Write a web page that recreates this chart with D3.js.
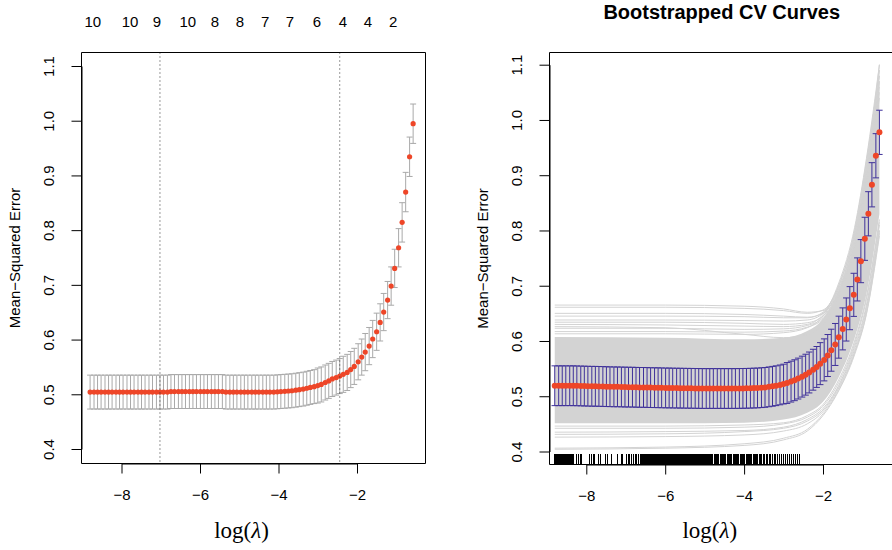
<!DOCTYPE html>
<html><head><meta charset="utf-8">
<script src="https://cdn.jsdelivr.net/npm/d3@7"></script>
<style>body{margin:0;background:#fff}svg{display:block}</style>
</head><body>
<svg id="chart" width="892" height="550"></svg>
<script>
// ---------------- data ----------------
const logLambda = [-8.80,-8.70,-8.61,-8.52,-8.42,-8.33,-8.24,-8.14,-8.05,-7.96,
-7.86,-7.77,-7.68,-7.58,-7.49,-7.40,-7.30,-7.21,-7.11,-7.02,
-6.93,-6.83,-6.74,-6.65,-6.55,-6.46,-6.37,-6.27,-6.18,-6.09,
-5.99,-5.90,-5.81,-5.71,-5.62,-5.53,-5.43,-5.34,-5.24,-5.15,
-5.06,-4.96,-4.87,-4.78,-4.68,-4.59,-4.50,-4.40,-4.31,-4.22,
-4.12,-4.03,-3.94,-3.84,-3.75,-3.66,-3.56,-3.47,-3.37,-3.28,
-3.19,-3.09,-3.00,-2.91,-2.81,-2.72,-2.63,-2.53,-2.44,-2.35,
-2.25,-2.16,-2.07,-1.97,-1.88,-1.79,-1.69,-1.60,-1.50,-1.41,
-1.32,-1.22,-1.13,-1.04,-0.94,-0.85,-0.76,-0.66,-0.57];

const cvmLeft = [0.504,0.504,0.504,0.504,0.504,0.504,0.504,0.504,0.504,0.504,
0.504,0.504,0.504,0.504,0.504,0.504,0.504,0.504,0.504,0.504,
0.504,0.504,0.505,0.505,0.505,0.505,0.505,0.505,0.505,0.505,
0.505,0.505,0.505,0.505,0.505,0.505,0.505,0.504,0.504,0.504,
0.504,0.504,0.504,0.504,0.504,0.504,0.504,0.504,0.504,0.504,
0.504,0.5045,0.505,0.5055,0.506,0.5065,0.5075,0.5085,0.5095,0.511,
0.5125,0.514,0.516,0.518,0.5215,0.5245,0.528,0.5305,0.5333,0.5365,
0.540,0.5452,0.551,0.5594,0.568,0.5771,0.5881,0.601,0.6143,0.6314,
0.6503,0.6722,0.6978,0.7301,0.7678,0.8142,0.8696,0.9341,0.9945];

const cvsdLeft = [0.031,0.031,0.031,0.031,0.031,0.031,0.031,0.031,0.031,0.031,
0.031,0.031,0.031,0.031,0.031,0.031,0.031,0.031,0.031,0.031,
0.031,0.031,0.031,0.031,0.031,0.031,0.031,0.031,0.031,0.031,
0.031,0.031,0.031,0.031,0.031,0.031,0.031,0.031,0.031,0.031,
0.031,0.031,0.031,0.031,0.031,0.031,0.031,0.031,0.031,0.031,
0.031,0.031,0.031,0.031,0.031,0.031,0.031,0.031,0.031,0.031,
0.031,0.031,0.032,0.032,0.032,0.032,0.032,0.032,0.032,0.033,
0.033,0.033,0.033,0.033,0.033,0.034,0.034,0.034,0.034,0.034,
0.034,0.034,0.035,0.035,0.035,0.036,0.036,0.036,0.036];

const cvmRight = [0.519,0.519,0.519,0.519,0.519,0.519,0.5188,0.5186,0.5184,0.5182,
0.518,0.518,0.5178,0.5176,0.5174,0.5172,0.517,0.517,0.5168,0.5166,
0.5165,0.5164,0.5162,0.516,0.516,0.5158,0.5156,0.5155,0.5154,0.5152,
0.515,0.515,0.5148,0.5147,0.5146,0.5145,0.5144,0.5143,0.5142,0.5141,
0.514,0.514,0.514,0.514,0.514,0.514,0.514,0.514,0.514,0.514,
0.5141,0.5142,0.5143,0.5145,0.5148,0.515,0.5155,0.516,0.517,0.518,
0.519,0.5205,0.522,0.524,0.5265,0.529,0.532,0.5355,0.539,0.543,
0.548,0.553,0.559,0.5658,0.5737,0.5833,0.5937,0.6069,0.6219,0.6389,
0.6594,0.6835,0.7114,0.7445,0.7849,0.8302,0.8827,0.9352,0.9776];

const cvsdRight = [0.036,0.036,0.036,0.036,0.036,0.036,0.036,0.036,0.036,0.036,
0.036,0.036,0.036,0.036,0.036,0.036,0.036,0.036,0.036,0.036,
0.036,0.036,0.036,0.036,0.036,0.036,0.036,0.036,0.036,0.036,
0.036,0.036,0.036,0.036,0.036,0.036,0.036,0.036,0.036,0.036,
0.036,0.036,0.036,0.036,0.036,0.036,0.036,0.036,0.036,0.036,
0.036,0.036,0.036,0.036,0.036,0.036,0.036,0.036,0.036,0.036,
0.036,0.036,0.036,0.037,0.037,0.037,0.037,0.037,0.037,0.037,
0.037,0.037,0.038,0.038,0.038,0.038,0.038,0.038,0.038,0.039,
0.039,0.039,0.039,0.039,0.039,0.040,0.040,0.040,0.040];

// number of non-zero coefficients (top axis of the left panel)
const nzAt = [-8.73,-7.78,-7.10,-6.31,-5.62,-4.98,-4.34,-3.71,-3.02,-2.36,-1.72,-1.08];
const nzLabels = ["10","10","9","10","8","8","7","7","6","4","4","2"];
const lambdaMin = -7.02;
const lambda1se = -2.44;

const xTicks = [-8,-6,-4,-2];
const yTicks = [0.4,0.5,0.6,0.7,0.8,0.9,1.0,1.1];

// bootstrapped CV curves, read at these log(lambda) knots
const bootKnots = [-8.8,-6.0,-4.0,-3.0,-2.4,-2.0,-1.6,-1.2,-0.9,-0.57];
const bootCoreUpper = [0.607,0.606,0.603,0.606,0.618,0.640,0.690,0.780,0.900,1.070];
const bootCoreLower = [0.451,0.451,0.452,0.458,0.470,0.490,0.535,0.605,0.685,0.830];
const bootCurves = [
 [0.665,0.665,0.663,0.658,0.652,0.655,0.690,0.790,0.910,1.100],
 [0.661,0.661,0.659,0.655,0.650,0.656,0.700,0.800,0.925,1.090],
 [0.650,0.650,0.648,0.645,0.643,0.650,0.695,0.785,0.905,1.080],
 [0.645,0.645,0.644,0.642,0.642,0.652,0.700,0.795,0.920,1.090],
 [0.638,0.638,0.637,0.636,0.638,0.650,0.705,0.805,0.930,1.100],
 [0.634,0.634,0.632,0.630,0.633,0.645,0.690,0.780,0.900,1.070],
 [0.630,0.629,0.627,0.626,0.630,0.648,0.700,0.795,0.915,1.080],
 [0.623,0.623,0.621,0.622,0.628,0.642,0.690,0.775,0.895,1.060],
 [0.617,0.617,0.616,0.618,0.625,0.640,0.685,0.770,0.890,1.050],
 [0.613,0.613,0.612,0.615,0.624,0.645,0.695,0.785,0.905,1.070],
 [0.626,0.624,0.612,0.606,0.612,0.630,0.680,0.770,0.885,1.040],
 [0.446,0.446,0.448,0.452,0.465,0.485,0.530,0.600,0.680,0.820],
 [0.442,0.442,0.444,0.450,0.462,0.482,0.525,0.595,0.675,0.815],
 [0.435,0.436,0.438,0.444,0.458,0.478,0.520,0.590,0.665,0.810],
 [0.431,0.432,0.436,0.442,0.455,0.475,0.518,0.585,0.660,0.800],
 [0.426,0.427,0.430,0.437,0.450,0.472,0.515,0.580,0.655,0.800],
 [0.406,0.408,0.414,0.424,0.440,0.468,0.512,0.578,0.650,0.795],
 [0.404,0.406,0.411,0.421,0.437,0.465,0.510,0.575,0.648,0.790]
];

// lambda.min of each bootstrap sample (rug)
const rugLogLambda = [
-8.800,-8.775,-8.750,-8.725,-8.700,-8.675,-8.650,-8.625,-8.600,-8.575,-8.550,-8.525,-8.500,-8.475,-8.450,-8.425,-8.400,-8.375,-8.350,-8.325,
-8.25,-8.19,-8.15,-8.11,
-7.92,-7.86,-7.82,-7.78,-7.69,-7.65,
-7.52,-7.47,-7.37,
-7.20,-7.12,-7.07,-6.99,
-6.94,-6.90,-6.85,-6.80,-6.76,-6.72,-6.68,
-6.625,-6.600,-6.575,-6.550,-6.525,-6.500,-6.475,-6.450,-6.425,-6.400,-6.375,-6.350,-6.325,-6.300,-6.275,-6.250,-6.225,-6.200,
-6.175,-6.150,-6.125,-6.100,-6.075,-6.050,-6.025,-6.000,-5.975,-5.950,-5.925,-5.900,-5.875,-5.850,-5.825,-5.800,-5.775,-5.750,
-5.725,-5.700,-5.675,-5.650,-5.625,-5.600,-5.575,-5.550,-5.525,-5.500,-5.475,-5.450,-5.425,-5.400,-5.375,-5.350,-5.325,-5.300,
-5.275,-5.250,-5.225,-5.200,-5.175,-5.150,-5.125,-5.100,-5.075,-5.050,-5.025,-5.000,-4.975,-4.950,-4.925,-4.900,-4.875,
-4.85,-4.82,-4.79,-4.76,-4.73,-4.70,-4.67,-4.64,-4.61,-4.58,-4.55,-4.52,-4.49,-4.46,-4.43,-4.40,-4.37,-4.34,-4.31,-4.28,
-4.25,-4.22,-4.19,-4.16,-4.13,-4.10,-4.07,-4.04,-4.01,-3.98,-3.95,-3.92,-3.89,-3.86,-3.83,-3.80,-3.77,-3.74,-3.71,-3.68,
-3.65,-3.62,-3.59,-3.56,-3.52,-3.48,-3.44,-3.40,-3.36,-3.32,-3.28,-3.24,-3.20,-3.15,-3.10,-3.05,-3.00,-2.94,-2.89,-2.84,
-2.79,-2.74,-2.69,-2.64,-2.60];

// ---------------- drawing ----------------
const FONT = "'Liberation Sans', Arial, Helvetica, sans-serif";
const SERIF = "'Liberation Serif', 'Times New Roman', serif";
const RED = "#ee4628";
const svg = d3.select("#chart");

function axes(g, x, y, box, ylabBase, tickLabBase) {
  const xa = g.append("g").attr("transform", `translate(0,${box.y1})`)
    .call(d3.axisBottom(x).tickValues(xTicks).tickSize(10).tickSizeOuter(0).tickFormat(d3.format("d")));
  xa.selectAll("text").attr("y", 36).attr("dy", 0).style("font-size", "15px").style("font-family", FONT).attr("fill", "#000");
  const ya = g.append("g").attr("transform", `translate(${box.x0},0)`)
    .call(d3.axisLeft(y).tickValues(yTicks).tickSize(10).tickSizeOuter(0).tickFormat(d3.format(".1f")));
  ya.selectAll("text").attr("transform", "rotate(-90)").attr("x", 0).attr("y", -tickLabBase).attr("dy", 0)
    .attr("text-anchor", "middle").style("font-size", "15px").style("font-family", FONT).attr("fill", "#000");
  [xa, ya].forEach(a => { a.selectAll("path,line").attr("stroke", "#000"); a.attr("font-family", null).attr("font-size", null); });
  // box
  g.append("path").attr("d", `M${box.x0},${box.y0}H${box.x1}V${box.y1}H${box.x0}Z`).attr("fill", "none").attr("stroke", "#000");
  // y label
  g.append("text").attr("transform", `translate(${ylabBase},${(box.y0 + box.y1) / 2}) rotate(-90)`)
    .attr("text-anchor", "middle").style("font-size", "15px").style("font-family", FONT).text("Mean\u2212Squared Error");
  // x label log(lambda)
  const t = g.append("text").attr("x", (box.x0 + box.x1) / 2 - 12).attr("y", 538)
    .attr("text-anchor", "middle").style("font-size", "23px").style("font-family", SERIF);
  t.append("tspan").text("log(");
  t.append("tspan").style("font-style", "italic").text("\u03bb");
  t.append("tspan").text(")");
}

// ---- left panel ----
const L = {x0: 81.5, x1: 425.5, y0: 52.5, y1: 463.5};
const xL = d3.scaleLinear().domain([-8, -2]).range([121.5, 357]);
const yL = d3.scaleLinear().domain([0.4, 1.1]).range([449, 66]);
const gL = svg.append("g");
const leftData = logLambda.map((v, i) => ({x: v, m: cvmLeft[i], s: cvsdLeft[i]}));

const ebL = gL.append("g").attr("stroke", "#a9a9a9").attr("stroke-width", 1);
leftData.forEach(d => {
  const xx = xL(d.x), yt = yL(d.m + d.s), yb = yL(d.m - d.s);
  ebL.append("line").attr("x1", xx).attr("x2", xx).attr("y1", yt).attr("y2", yb);
  ebL.append("line").attr("x1", xx - 3).attr("x2", xx + 3).attr("y1", yt).attr("y2", yt);
  ebL.append("line").attr("x1", xx - 3).attr("x2", xx + 3).attr("y1", yb).attr("y2", yb);
});
gL.append("g").selectAll("circle").data(leftData).join("circle")
  .attr("cx", d => xL(d.x)).attr("cy", d => yL(d.m)).attr("r", 2.6).attr("fill", RED);
gL.append("g").selectAll("line").data([lambdaMin, lambda1se]).join("line")
  .attr("x1", d => xL(d)).attr("x2", d => xL(d)).attr("y1", L.y0).attr("y2", L.y1)
  .attr("stroke", "#333").attr("stroke-dasharray", "1,3");
gL.append("g").selectAll("text").data(nzAt).join("text")
  .attr("x", d => xL(d)).attr("y", 27).attr("text-anchor", "middle")
  .style("font-size", "15px").style("font-family", FONT).text((d, i) => nzLabels[i]);
axes(gL, xL, yL, L, 20, 28);

// ---- right panel ----
const R = {x0: 549.5, x1: 894, y0: 52.5, y1: 464.5};
const xR = d3.scaleLinear().domain([-8, -2]).range([586.3, 823]);
const yR = d3.scaleLinear().domain([0.4, 1.1]).range([451.5, 64.7]);
const gR = svg.append("g");
svg.append("defs").append("clipPath").attr("id", "clipR").append("rect")
  .attr("x", R.x0).attr("y", R.y0).attr("width", R.x1 - R.x0).attr("height", R.y1 - R.y0);
const bootG = gR.append("g").attr("clip-path", "url(#clipR)");
const area = d3.area().x((d, i) => xR(bootKnots[i])).y0(d => yR(d[0])).y1(d => yR(d[1])).curve(d3.curveMonotoneX);
bootG.append("path").datum(bootCoreLower.map((v, i) => [v, bootCoreUpper[i]]))
  .attr("d", area).attr("fill", "#d3d3d3");
const line = d3.line().x((d, i) => xR(bootKnots[i])).y(d => yR(d)).curve(d3.curveMonotoneX);
bootG.selectAll("path.bc").data(bootCurves).join("path").attr("class", "bc")
  .attr("d", line).attr("fill", "none").attr("stroke", "#d3d3d3").attr("stroke-width", 1);

const rightData = logLambda.map((v, i) => ({x: v, m: cvmRight[i], s: cvsdRight[i]}));
const ebR = gR.append("g").attr("stroke", "#3f319a").attr("stroke-width", 1);
rightData.forEach(d => {
  const xx = xR(d.x), yt = yR(d.m + d.s), yb = yR(d.m - d.s);
  ebR.append("line").attr("x1", xx).attr("x2", xx).attr("y1", yt).attr("y2", yb);
  ebR.append("line").attr("x1", xx - 3.2).attr("x2", xx + 3.2).attr("y1", yt).attr("y2", yt);
  ebR.append("line").attr("x1", xx - 3.2).attr("x2", xx + 3.2).attr("y1", yb).attr("y2", yb);
});
gR.append("g").selectAll("circle").data(rightData).join("circle")
  .attr("cx", d => xR(d.x)).attr("cy", d => yR(d.m)).attr("r", 3).attr("fill", RED);
gR.append("g").attr("shape-rendering", "crispEdges").selectAll("line").data(rugLogLambda).join("line")
  .attr("x1", d => xR(d)).attr("x2", d => xR(d)).attr("y1", R.y1 - 11).attr("y2", R.y1)
  .attr("stroke", "#000").attr("stroke-width", 1);
axes(gR, xR, yR, R, 488, 28);
gR.append("text").attr("x", (R.x0 + R.x1) / 2).attr("y", 19).attr("text-anchor", "middle")
  .style("font-size", "20px").style("font-weight", "bold").style("font-family", FONT).text("Bootstrapped CV Curves");
</script>
</body></html>
